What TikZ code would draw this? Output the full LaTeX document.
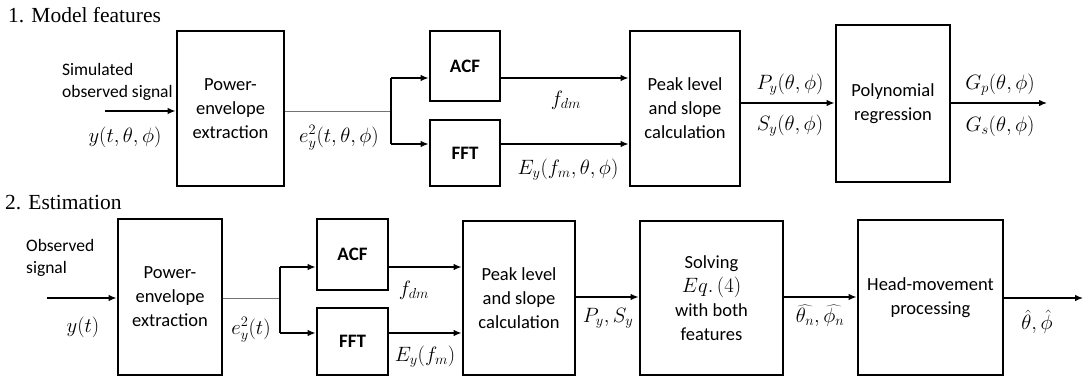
\documentclass[tikz,border=0pt]{standalone}
\usepackage{fontspec}
\setsansfont{Carlito}
\newfontfamily\tnr{Liberation Serif}
\usetikzlibrary{arrows.meta}
\begin{document}
\begin{tikzpicture}[x=1pt,y=-1pt,
  blk/.style={draw,line width=2.8pt,inner sep=0pt,align=center,font=\sffamily\fontsize{18.5}{24}\selectfont},
  bblk/.style={blk,font=\sffamily\bfseries\fontsize{19}{24}\selectfont},
  arr/.style={line width=1.3pt,-{Latex[length=8pt,width=6.5pt]}},
  gl/.style={line width=0.9pt,draw=black!55},
  lbl/.style={inner sep=0pt,font=\fontsize{21.5}{24}\selectfont},
  ttl/.style={inner sep=0pt,anchor=west,font=\tnr\fontsize{21.5}{24}\selectfont},
  sl/.style={inner sep=0pt,align=left,anchor=west,font=\sffamily\fontsize{17.5}{22.5}\selectfont}]
\useasboundingbox (0,0) rectangle (1084,378);
% ---------- Part 1 ----------
\node[ttl] (t1) at (8,15) {1. Model features};
\node[blk,minimum width=107pt,minimum height=155pt] (pe1) at (230.5,108.5) {Power-\\envelope\\extraction};
\node[bblk,minimum width=70pt,minimum height=70pt] (acf1) at (465,66) {ACF};
\node[bblk,minimum width=70pt,minimum height=66pt] (fft1) at (465,153) {FFT};
\node[blk,minimum width=110pt,minimum height=155pt] (pk1) at (685,108.5) {Peak level\\and slope\\calculation};
\node[blk,minimum width=114pt,minimum height=157pt] (poly) at (893,103.5) {Polynomial\\regression};
\coordinate (in1) at (105,111);
\coordinate (sp1) at (391,111);
\coordinate (sp1a) at (391,78);
\coordinate (sp1b) at (391,144);
\coordinate (out1) at (1047,103);
\draw[arr] (in1) -- (pe1.west |- in1);
\draw[gl] (pe1.east |- sp1) -- (sp1);
\draw[line width=1.3pt] (sp1a) -- (sp1b);
\draw[arr] (sp1a) -- (acf1.west |- sp1a);
\draw[arr] (sp1b) -- (fft1.west |- sp1b);
\draw[arr] (acf1.east |- sp1a) -- (pk1.west |- sp1a);
\draw[arr] (fft1.east |- sp1b) -- (pk1.west |- sp1b);
\draw[arr] (pk1.east |- out1) -- (poly.west |- out1);
\draw[arr] (poly.east |- out1) -- (out1);
\node[sl] (sim) at (62,82) {Simulated\\observed signal};
\node[lbl] (y1) at (125,137) {$y(t,\theta,\phi)$};
\node[lbl] (e1) at (339,138) {$e_y^2(t,\theta,\phi)$};
\node[lbl] (fdm1) at (566,100) {$f_{dm}$};
\node[lbl] (Ey1) at (568,170) {$E_y(f_m,\theta,\phi)$};
\node[lbl] (Py1) at (790,85) {$P_y(\theta,\phi)$};
\node[lbl] (Sy1) at (790,126) {$S_y(\theta,\phi)$};
\node[lbl] (Gp) at (1000,85) {$G_p(\theta,\phi)$};
\node[lbl] (Gs) at (1000,126) {$G_s(\theta,\phi)$};
% ---------- Part 2 ----------
\node[ttl] (t2) at (5,203) {2. Estimation};
\node[blk,minimum width=104pt,minimum height=156pt] (pe2) at (170,297) {Power-\\envelope\\extraction};
\node[bblk,minimum width=71pt,minimum height=71pt] (acf2) at (352.5,254.5) {ACF};
\node[bblk,minimum width=71pt,minimum height=67pt] (fft2) at (352.5,341.5) {FFT};
\node[blk,minimum width=112pt,minimum height=154pt] (pk2) at (519,298) {Peak level\\and slope\\calculation};
\node[blk,minimum width=143pt,minimum height=154pt] (solve) at (711.5,298) {Solving\\{\fontsize{21}{24}\selectfont$Eq.\,(4)$}\\with both\\features};
\node[blk,minimum width=145pt,minimum height=155pt] (head) at (930.5,297.5) {Head-movement\\processing};
\coordinate (in2) at (47,298);
\coordinate (sp2) at (280,298);
\coordinate (sp2a) at (280,267);
\coordinate (sp2b) at (280,333);
\coordinate (mid2) at (0,297);
\coordinate (out2) at (1083,298);
\draw[arr] (in2) -- (pe2.west |- in2);
\draw[gl] (pe2.east |- sp2) -- (sp2);
\draw[line width=1.3pt] (sp2a) -- (sp2b);
\draw[arr] (sp2a) -- (acf2.west |- sp2a);
\draw[arr] (sp2b) -- (fft2.west |- sp2b);
\draw[arr] (acf2.east |- sp2a) -- (pk2.west |- sp2a);
\draw[arr] (fft2.east |- sp2b) -- (pk2.west |- sp2b);
\draw[arr] (pk2.east |- mid2) -- (solve.west |- mid2);
\draw[arr] (solve.east |- mid2) -- (head.west |- mid2);
\draw[arr] (head.east |- out2) -- (out2);
\node[sl] (obs) at (26,258) {Observed\\signal};
\node[lbl] (y2) at (83,327) {$y(t)$};
\node[lbl] (e2) at (251,330) {$e_y^2(t)$};
\node[lbl] (fdm2) at (414,290) {$f_{dm}$};
\node[lbl] (Ey2) at (425,357) {$E_y(f_m)$};
\node[lbl] (PS) at (608,318) {$P_y,S_y$};
\node[lbl] (thn) at (820,316) {$\widehat{\theta_n},\widehat{\phi_n}$};
\node[lbl] (th) at (1037,322) {$\hat\theta,\hat\phi$};
\end{tikzpicture}
\end{document}
